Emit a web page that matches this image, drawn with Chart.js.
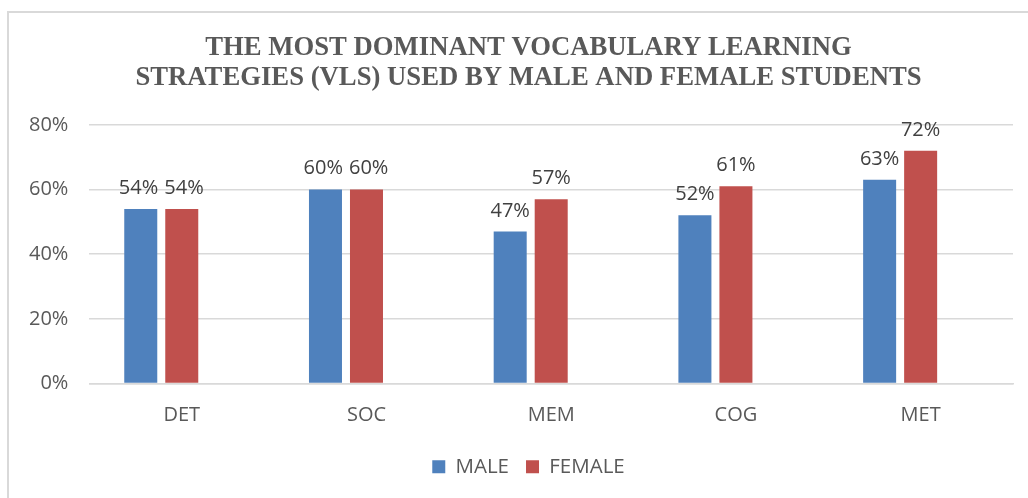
<!DOCTYPE html>
<html>
<head>
<meta charset="utf-8">
<script src="https://cdn.jsdelivr.net/npm/chart.js@4.4.0/dist/chart.umd.min.js"></script>
<style>
  html, body { margin: 0; padding: 0; background: #fff; }
  #wrap { position: relative; width: 1028px; height: 498px; }
  #frame { position: absolute; left: 7px; top: 11px; right: 0; bottom: 0;
           border-top: 2px solid #d9d9d9; border-left: 2px solid #d9d9d9; }
  canvas { position: absolute; left: 0; top: 0; }
</style>
</head>
<body>
<div id="wrap">
  <div id="frame"></div>
  <canvas id="bar-chart" width="1028" height="498"></canvas>
</div>
<script>
// values (percent)
var categories = ["DET", "SOC", "MEM", "COG", "MET"];
var maleValues = [54, 60, 47, 52, 63];
var femaleValues = [54, 60, 57, 61, 72];
// the source sheet had an empty third series, which pushes the pairs left
var emptyValues = [null, null, null, null, null];
var yTicks = [0, 20, 40, 60, 80];

var textGrey = '#595959';

// value labels above each bar, pushed apart sideways when two collide
var barLabels = {
  id: 'barLabels',
  afterDatasetsDraw: function(chart) {
    var ctx = chart.ctx;
    ctx.save();
    ctx.font = '20px "Open Sans"';
    ctx.fillStyle = '#404040';
    ctx.textAlign = 'center';
    ctx.textBaseline = 'alphabetic';
    var m0 = chart.getDatasetMeta(0).data, m1 = chart.getDatasetMeta(1).data;
    categories.forEach(function(c, j) {
      var t0 = maleValues[j] + '%', t1 = femaleValues[j] + '%';
      var x0 = m0[j].x, x1 = m1[j].x, y0 = m0[j].y - 15, y1 = m1[j].y - 15;
      if (Math.abs(y0 - y1) < 18) {
        var need = (ctx.measureText(t0).width + ctx.measureText(t1).width) / 2 + 6;
        var over = need - (x1 - x0);
        if (over > 0) { x0 -= over / 2; x1 += over / 2; }
      }
      ctx.fillText(t0, x0, y0);
      ctx.fillText(t1, x1, y1);
    });
    ctx.restore();
  }
};

// title and legend sit centred on the frame, not on the plot
var centreOnFrame = {
  id: 'centreOnFrame',
  afterLayout: function(chart) {
    chart.titleBlock.left += 36;
    chart.legend.left += 36;
  }
};

var barChart = new Chart(document.getElementById("bar-chart"), {
  type: 'bar',
  data: {
    labels: categories,
    datasets: [
      { label: "MALE", data: maleValues, backgroundColor: "#4f81bd" },
      { label: "FEMALE", data: femaleValues, backgroundColor: "#c0504d" },
      { label: "", data: emptyValues, backgroundColor: "#9bbb59" }
    ]
  },
  options: {
    responsive: false,
    animation: false,
    devicePixelRatio: 1,
    categoryPercentage: 0.666,
    barPercentage: 0.805,
    layout: { padding: { left: 8, right: 15, top: 0, bottom: 11 } },
    plugins: {
      legend: {
        position: 'bottom',
        labels: {
          boxWidth: 13, boxHeight: 13, padding: 17,
          color: textGrey,
          font: { family: 'Open Sans', size: 20.5 },
          filter: function(item) { return item.text !== ""; }
        }
      },
      title: {
        display: true,
        text: ['THE MOST DOMINANT VOCABULARY LEARNING',
               'STRATEGIES (VLS) USED BY MALE AND FEMALE STUDENTS'],
        color: textGrey,
        font: { family: 'Liberation Serif', size: 26.7, weight: 'bold', lineHeight: 1.12 },
        padding: { top: 33, bottom: 32 }
      },
      tooltip: { enabled: false }
    },
    scales: {
      x: {
        grid: { display: false },
        border: { color: '#d9d9d9', width: 1.5 },
        ticks: { color: textGrey, font: { family: 'Open Sans', size: 20 }, padding: 12 }
      },
      y: {
        min: 0, max: 80,
        afterBuildTicks: function(scale) {
          scale.ticks = yTicks.map(function(v) { return { value: v }; });
        },
        grid: { color: '#d9d9d9', lineWidth: 1.5, drawTicks: false },
        border: { display: false },
        ticks: {
          color: textGrey, padding: 21,
          font: { family: 'Open Sans', size: 20 },
          callback: function(v) { return v + '%'; }
        }
      }
    }
  },
  plugins: [barLabels, centreOnFrame]
});
</script>
</body>
</html>
